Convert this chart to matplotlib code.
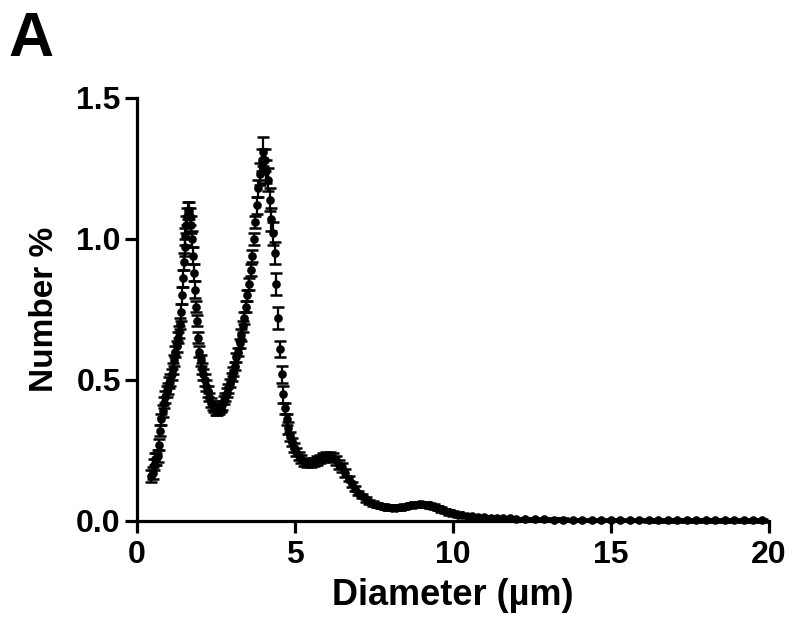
"""Particle size distribution (number %) with mean +/- SEM, panel A."""

from __future__ import annotations

import matplotlib

matplotlib.use("Agg")
import matplotlib.pyplot as plt  # noqa: E402

DIAMETER_UM = [
    0.46, 0.50, 0.54, 0.58, 0.62, 0.66, 0.70, 0.74, 0.78, 0.82,
    0.86, 0.90, 0.94, 0.98, 1.02, 1.06, 1.10, 1.14, 1.18, 1.22,
    1.26, 1.30, 1.33, 1.36, 1.39, 1.42, 1.45, 1.48, 1.51, 1.54,
    1.57, 1.60, 1.63, 1.66, 1.69, 1.72, 1.75, 1.78, 1.81, 1.84,
    1.87, 1.90, 1.94, 1.98, 2.02, 2.06, 2.10, 2.15, 2.20, 2.25,
    2.30, 2.35, 2.40, 2.45, 2.50, 2.55, 2.60, 2.65, 2.70, 2.75,
    2.80, 2.85, 2.90, 2.95, 3.00, 3.05, 3.10, 3.15, 3.20, 3.25,
    3.30, 3.35, 3.40, 3.45, 3.50, 3.55, 3.60, 3.65, 3.70, 3.75,
    3.80, 3.85, 3.90, 3.95, 4.00, 4.05, 4.10, 4.15, 4.21, 4.26,
    4.31, 4.37, 4.42, 4.47, 4.53, 4.58, 4.63, 4.69, 4.74, 4.80,
    4.86, 4.92, 4.98, 5.05, 5.12, 5.20, 5.30, 5.40, 5.50, 5.60,
    5.70, 5.80, 5.90, 6.00, 6.10, 6.20, 6.30, 6.40, 6.50, 6.60,
    6.70, 6.80, 6.90, 7.00, 7.12, 7.24, 7.36, 7.48, 7.60, 7.72,
    7.84, 7.96, 8.08, 8.20, 8.32, 8.44, 8.56, 8.68, 8.80, 8.92,
    9.04, 9.16, 9.28, 9.40, 9.52, 9.64, 9.76, 9.88, 10.00, 10.15,
    10.30, 10.45, 10.60, 10.80, 11.00, 11.20, 11.40, 11.60, 11.80, 12.00,
    12.30, 12.60, 12.90, 13.20, 13.50, 13.80, 14.10, 14.40, 14.70, 15.00,
    15.30, 15.60, 15.90, 16.20, 16.50, 16.80, 17.10, 17.40, 17.70, 18.00,
    18.30, 18.60, 18.90, 19.20, 19.50, 19.80,
]

NUMBER_PCT = [
    0.16, 0.17, 0.20, 0.22, 0.22, 0.23, 0.27, 0.32, 0.36, 0.39,
    0.42, 0.44, 0.46, 0.47, 0.49, 0.50, 0.52, 0.54, 0.57, 0.60,
    0.62, 0.65, 0.67, 0.70, 0.74, 0.80, 0.86, 0.92, 0.97, 1.01,
    1.05, 1.08, 1.10, 1.10, 1.08, 1.05, 1.00, 0.94, 0.88, 0.82,
    0.76, 0.71, 0.65, 0.60, 0.57, 0.54, 0.52, 0.50, 0.48, 0.46,
    0.44, 0.42, 0.41, 0.40, 0.39, 0.39, 0.395, 0.40, 0.41, 0.43,
    0.44, 0.455, 0.47, 0.49, 0.51, 0.53, 0.55, 0.58, 0.60, 0.63,
    0.66, 0.69, 0.72, 0.76, 0.80, 0.84, 0.89, 0.94, 1.00, 1.06,
    1.12, 1.18, 1.23, 1.28, 1.31, 1.28, 1.24, 1.21, 1.14, 1.07,
    1.02, 0.95, 0.84, 0.72, 0.61, 0.52, 0.45, 0.40, 0.36, 0.33,
    0.30, 0.28, 0.26, 0.245, 0.23, 0.22, 0.21, 0.205, 0.205, 0.21,
    0.215, 0.22, 0.225, 0.23, 0.23, 0.225, 0.215, 0.20, 0.19, 0.17,
    0.15, 0.13, 0.115, 0.10, 0.088, 0.077, 0.068, 0.062, 0.057, 0.053,
    0.050, 0.048, 0.047, 0.047, 0.048, 0.050, 0.053, 0.056, 0.058, 0.060,
    0.060, 0.058, 0.055, 0.051, 0.046, 0.041, 0.036, 0.031, 0.027, 0.023,
    0.020, 0.018, 0.016, 0.014, 0.013, 0.012, 0.011, 0.010, 0.009, 0.008,
    0.007, 0.006, 0.006, 0.005, 0.005, 0.004, 0.004, 0.004, 0.003, 0.003,
    0.003, 0.003, 0.003, 0.002, 0.002, 0.002, 0.002, 0.002, 0.002, 0.002,
    0.002, 0.002, 0.002, 0.002, 0.002, 0.002,
]

SEM_PCT = [
    0.02, 0.02, 0.02, 0.02, 0.02, 0.02, 0.02, 0.02, 0.02, 0.02,
    0.02, 0.02, 0.02, 0.02, 0.02, 0.02, 0.02, 0.02, 0.02, 0.02,
    0.02, 0.02, 0.02, 0.02, 0.03, 0.03, 0.03, 0.03, 0.03, 0.03,
    0.03, 0.03, 0.03, 0.03, 0.03, 0.03, 0.03, 0.03, 0.03, 0.03,
    0.02, 0.02, 0.02, 0.02, 0.02, 0.02, 0.02, 0.02, 0.02, 0.02,
    0.015, 0.015, 0.015, 0.015, 0.015, 0.015, 0.015, 0.015, 0.015, 0.015,
    0.015, 0.015, 0.015, 0.015, 0.015, 0.015, 0.015, 0.015, 0.015, 0.015,
    0.02, 0.02, 0.02, 0.02, 0.02, 0.02, 0.02, 0.02, 0.02, 0.02,
    0.03, 0.03, 0.04, 0.04, 0.05, 0.04, 0.04, 0.04, 0.04, 0.04,
    0.04, 0.04, 0.04, 0.04, 0.03, 0.03, 0.03, 0.02, 0.02, 0.02,
    0.015, 0.015, 0.015, 0.015, 0.015, 0.015, 0.015, 0.015, 0.015, 0.015,
    0.015, 0.015, 0.015, 0.015, 0.015, 0.015, 0.015, 0.015, 0.015, 0.015,
    0.008, 0.008, 0.008, 0.008, 0.008, 0.008, 0.008, 0.008, 0.008, 0.008,
    0.008, 0.008, 0.008, 0.008, 0.008, 0.008, 0.008, 0.008, 0.008, 0.008,
    0.008, 0.008, 0.008, 0.008, 0.008, 0.008, 0.008, 0.008, 0.008, 0.008,
    0.004, 0.004, 0.004, 0.004, 0.004, 0.004, 0.004, 0.004, 0.004, 0.004,
    0.004, 0.004, 0.004, 0.004, 0.004, 0.004, 0.004, 0.004, 0.004, 0.004,
    0.004, 0.004, 0.004, 0.004, 0.004, 0.004, 0.004, 0.004, 0.004, 0.004,
    0.004, 0.004, 0.004, 0.004, 0.004, 0.004,
]

X_TICKS = [0, 5, 10, 15, 20]
Y_TICKS = [0.0, 0.5, 1.0, 1.5]
Y_TICK_LABELS = ["0.0", "0.5", "1.0", "1.5"]

FIGURE_STYLE = {
    "font.family": ["Liberation Sans", "DejaVu Sans"],
    "font.weight": "bold",
    "font.size": 23,
    "axes.linewidth": 2.3,
}


def style_axes(axis: plt.Axes) -> None:
    axis.spines["top"].set_visible(False)
    axis.spines["right"].set_visible(False)
    axis.set_xlim(0, 20)
    axis.set_ylim(0, 1.5)
    axis.set_xticks(X_TICKS)
    axis.set_yticks(Y_TICKS)
    axis.set_yticklabels(Y_TICK_LABELS)
    axis.tick_params(length=8.5, width=2.3, direction="out", labelsize=23, pad=3)
    axis.tick_params(axis="x", pad=5)
    for label in axis.get_xticklabels() + axis.get_yticklabels():
        label.set_fontweight("bold")


def main() -> None:
    with plt.rc_context(FIGURE_STYLE):
        figure = plt.figure(figsize=(8.0, 6.38), dpi=100)
        axis = figure.add_axes([0.171, 0.1834, 0.79, 0.663])
        axis.errorbar(
            DIAMETER_UM,
            NUMBER_PCT,
            yerr=SEM_PCT,
            fmt="o",
            color="black",
            markersize=5.2,
            elinewidth=1.6,
            capsize=4.0,
            capthick=1.8,
            clip_on=False,
            zorder=3,
        )
        style_axes(axis)
        axis.set_xlabel("Diameter (µm)", fontsize=26, fontweight="bold", labelpad=6)
        axis.set_ylabel("Number %", fontsize=24, fontweight="bold", labelpad=12)
        figure.text(0.01, 0.985, "A", fontsize=45, fontweight="bold", va="top", ha="left")
        figure.savefig("out.png", dpi=100)
        plt.close(figure)


if __name__ == "__main__":
    main()
